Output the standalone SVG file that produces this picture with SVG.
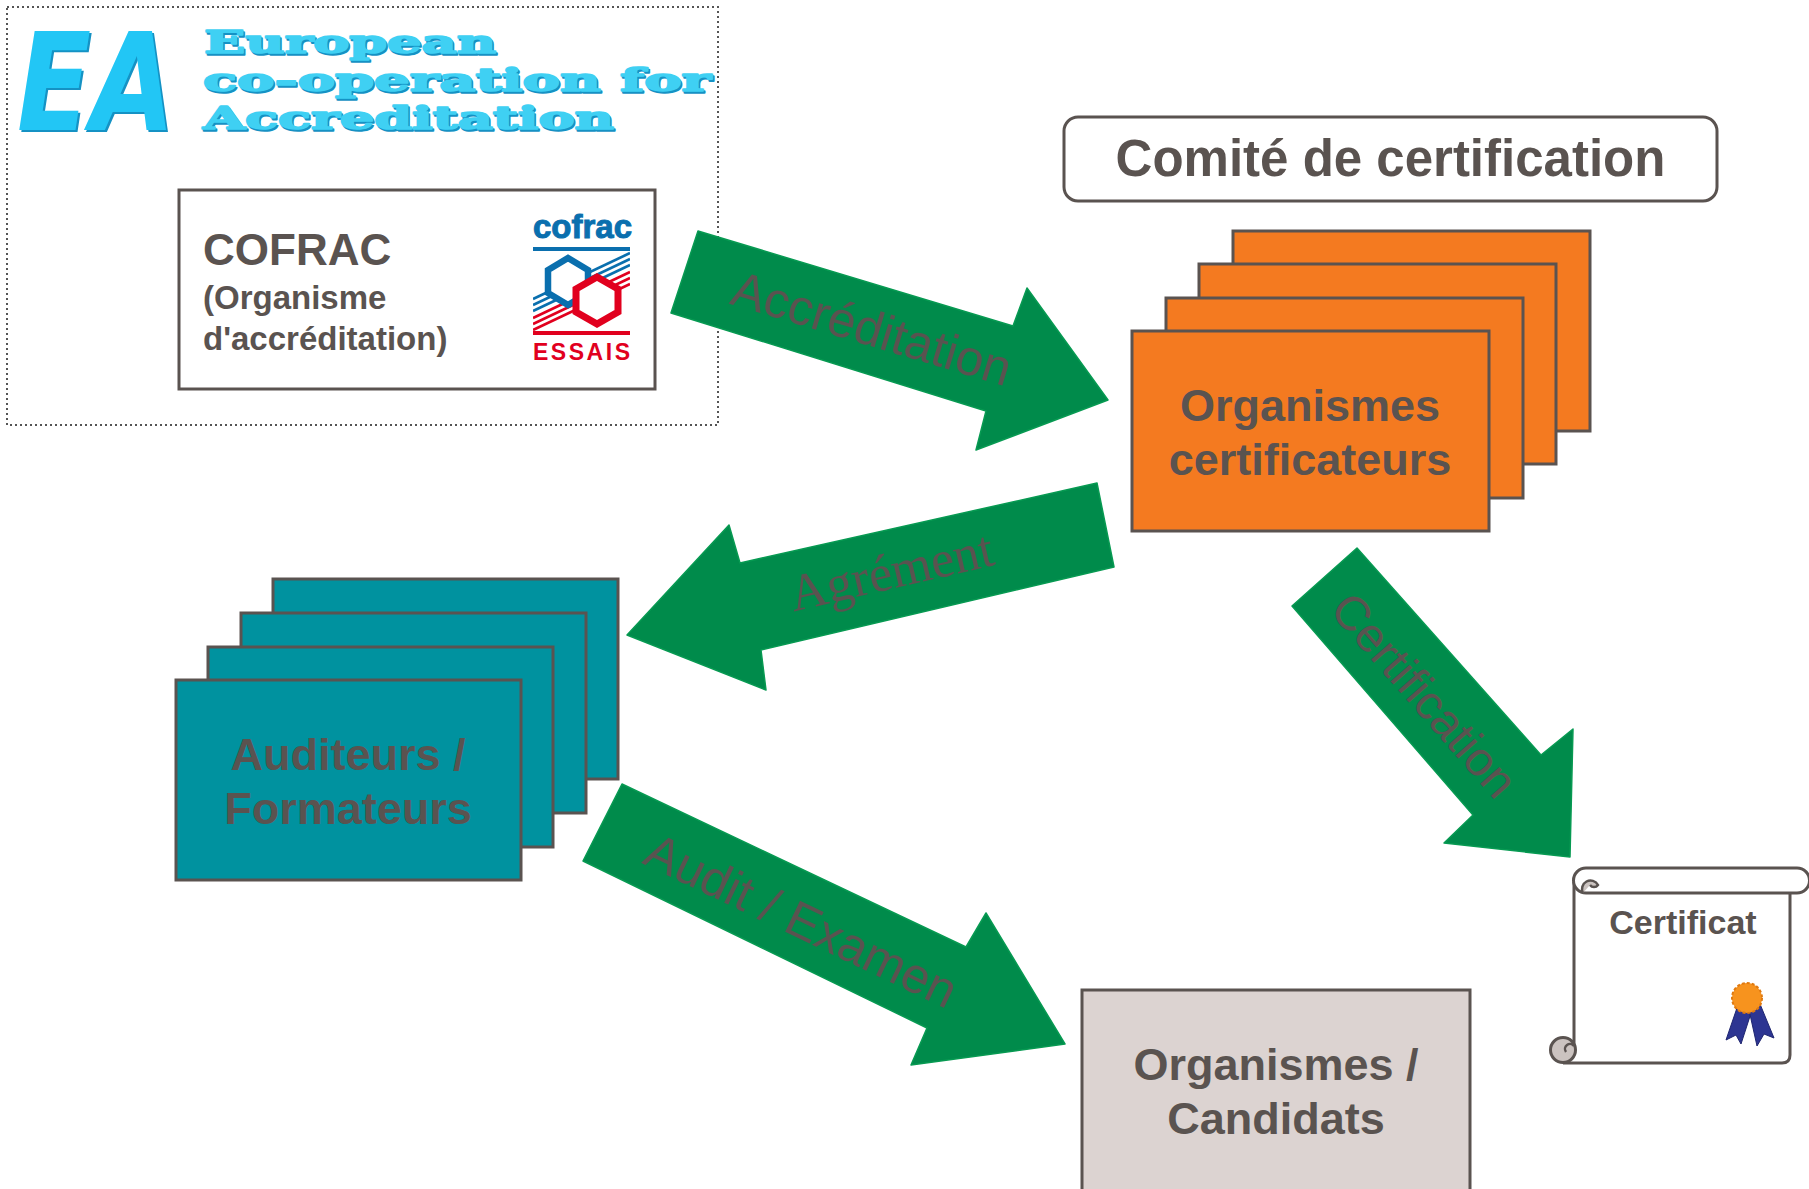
<svg xmlns="http://www.w3.org/2000/svg" width="1809" height="1189" viewBox="0 0 1809 1189">
<style>
.lbl{font-family:"Liberation Sans",Arial,sans-serif;font-weight:bold;fill:#5a5350}
.arr{fill:#008b4b;stroke:#079a52;stroke-width:1.5;stroke-linejoin:round}
.atx{font-family:"Liberation Sans",Arial,sans-serif;fill:#5a5350;text-anchor:middle}
.box{stroke:#5a5350;stroke-width:3}
.ea{font-family:"DejaVu Serif","Liberation Serif",serif;font-weight:bold;font-size:31px;stroke-width:1.6;stroke-linejoin:round}
</style>
<defs>
<clipPath id="logoclip"><rect x="533" y="251" width="97" height="82"/></clipPath>
</defs>
<rect width="1809" height="1189" fill="#ffffff"/>

<g id="ea-frame">
<rect x="7" y="7" width="711" height="418" fill="none" stroke="#555" stroke-width="2" stroke-dasharray="2 3"/>
<g id="ea-logo">
<text x="19" y="132" font-family="DejaVu Sans,sans-serif" font-weight="bold" font-style="italic" font-size="135" textLength="158" lengthAdjust="spacingAndGlyphs" fill="#1592c4">EA</text>
<text x="17" y="130" font-family="DejaVu Sans,sans-serif" font-weight="bold" font-style="italic" font-size="135" textLength="158" lengthAdjust="spacingAndGlyphs" fill="#22c6f5">EA</text>
<g fill="#1592c4" stroke="#1592c4">
<text class="ea" x="205.5" y="54.5" textLength="292" lengthAdjust="spacingAndGlyphs">European</text>
<text class="ea" x="204.5" y="92.5" textLength="508" lengthAdjust="spacingAndGlyphs">co-operation for</text>
<text class="ea" x="204.5" y="130.5" textLength="411" lengthAdjust="spacingAndGlyphs">Accreditation</text>
</g>
<g fill="#3fd0f3" stroke="#3fd0f3">
<text class="ea" x="204" y="53" textLength="292" lengthAdjust="spacingAndGlyphs">European</text>
<text class="ea" x="203" y="91" textLength="508" lengthAdjust="spacingAndGlyphs">co-operation for</text>
<text class="ea" x="203" y="129" textLength="411" lengthAdjust="spacingAndGlyphs">Accreditation</text>
</g>
</g>
</g>

<g id="cofrac">
<rect class="box" x="179" y="190" width="476" height="199" fill="#ffffff"/>
<text class="lbl" x="203" y="265" font-size="44">COFRAC</text>
<text class="lbl" x="203" y="309" font-size="33">(Organisme</text>
<text class="lbl" x="203" y="350" font-size="33">d'accréditation)</text>
<g id="cofrac-logo">
<text x="533" y="238" font-family="Liberation Sans,Arial,sans-serif" font-weight="bold" font-size="33" textLength="99" lengthAdjust="spacingAndGlyphs" fill="#0a6fae" stroke="#0a6fae" stroke-width="1">cofrac</text>
<rect x="533" y="247" width="97" height="4" fill="#0a6fae"/>
<g clip-path="url(#logoclip)" stroke-width="2.6">
<g stroke="#0a6fae">
<line x1="630" y1="253" x2="533" y2="299"/>
<line x1="630" y1="259" x2="533" y2="305"/>
<line x1="630" y1="265" x2="533" y2="311"/>
</g>
<g stroke="#e1001e">
<line x1="630" y1="272" x2="533" y2="318"/>
<line x1="630" y1="278" x2="533" y2="324"/>
<line x1="630" y1="284" x2="533" y2="330"/>
</g>
</g>
<polygon points="568,258 588,270 588,293 568,305 548,293 548,270" fill="#ffffff" stroke="#0a6fae" stroke-width="6.5"/>
<polygon points="597,277 618,289 618,312 597,324 576,312 576,289" fill="#ffffff" stroke="#e1001e" stroke-width="7"/>
<rect x="533" y="331" width="97" height="4" fill="#e1001e"/>
<text x="533" y="360" font-family="Liberation Sans,Arial,sans-serif" font-weight="bold" font-size="23" textLength="97" lengthAdjust="spacing" fill="#e1001e">ESSAIS</text>
</g>
</g>

<g id="comite">
<rect class="box" x="1064" y="117" width="653" height="84" rx="14" fill="#ffffff"/>
<text class="lbl" x="1390.5" y="176" font-size="51" text-anchor="middle">Comité de certification</text>
</g>

<g id="organismes-certificateurs">
<rect class="box" x="1233" y="231" width="357" height="200" fill="#f47a20"/>
<rect class="box" x="1199" y="264" width="357" height="200" fill="#f47a20"/>
<rect class="box" x="1166" y="298" width="357" height="200" fill="#f47a20"/>
<rect class="box" x="1132" y="331" width="357" height="200" fill="#f47a20"/>
<text class="lbl" x="1310" y="421" font-size="45" text-anchor="middle">Organismes</text>
<text class="lbl" x="1310" y="475" font-size="45" text-anchor="middle">certificateurs</text>
</g>

<g id="auditeurs-formateurs">
<rect class="box" x="273" y="579" width="345" height="200" fill="#00929f"/>
<rect class="box" x="241" y="613" width="345" height="200" fill="#00929f"/>
<rect class="box" x="208" y="647" width="345" height="200" fill="#00929f"/>
<rect class="box" x="176" y="680" width="345" height="200" fill="#00929f"/>
<text class="lbl" x="348" y="770" font-size="45" text-anchor="middle">Auditeurs /</text>
<text class="lbl" x="348" y="824" font-size="45" text-anchor="middle">Formateurs</text>
</g>

<g id="organismes-candidats">
<rect class="box" x="1082" y="990" width="388" height="215" fill="#dcd3d1"/>
<text class="lbl" x="1276" y="1080" font-size="45" text-anchor="middle">Organismes /</text>
<text class="lbl" x="1276" y="1134" font-size="45" text-anchor="middle">Candidats</text>
</g>

<g id="certificat">
<path d="M1574,880 H1790 V1055 Q1790,1063 1782,1063 H1563 V1037 H1574 Z" fill="#ffffff"/>
<path d="M1574,882 V1046 M1790,893 V1055 Q1790,1063 1782,1063 H1563" fill="none" stroke="#5a5350" stroke-width="3"/>
<path d="M1586,868 H1797 A12.5,12.5 0 0 1 1797,893 H1586 A12.5,12.5 0 0 1 1586,868 Z" fill="#ffffff" stroke="#5a5350" stroke-width="3"/>
<path d="M1583,893 A8,8 0 1 1 1598,885 A5,5 0 0 1 1590,885" fill="#cbc3c0" stroke="#5a5350" stroke-width="2.5"/>
<circle cx="1563" cy="1050" r="12.5" fill="#cbc3c0" stroke="#5a5350" stroke-width="3"/>
<path d="M1574,1046 A5,5 0 0 0 1566,1052" fill="none" stroke="#5a5350" stroke-width="2.5"/>
<text class="lbl" x="1683" y="934" font-size="34" text-anchor="middle">Certificat</text>
<polygon points="1738,1005 1752,1010 1741,1044 1736,1035 1726,1040" fill="#2d3592" stroke="#1f2670" stroke-width="1"/>
<polygon points="1749,1010 1760,1004 1774,1038 1764,1034 1757,1046" fill="#2d3592" stroke="#1f2670" stroke-width="1"/>
<circle cx="1747" cy="998" r="15" fill="#f7931e" stroke="#e07a10" stroke-width="2" stroke-dasharray="3 2"/>
</g>

<g id="connectors">
<g id="arrow-accreditation">
<polygon class="arr" points="698,231 1013,326 1027,288 1108,400 976,450 986,411 671,313"/>
<text class="atx" x="867" y="345" font-size="50" transform="rotate(16.7 867 345)">Accréditation</text>
</g>
<g id="arrow-agrement">
<polygon class="arr" points="1097,483 740,563 729,525 627,635 766,690 761,650 1114,567"/>
<text class="atx" x="895" y="588" font-size="52" style="font-family:'Liberation Serif','Times New Roman',serif" transform="rotate(-13 895 588)">Agrément</text>
</g>
<g id="arrow-certification">
<polygon class="arr" points="1357,548 1541,755 1573,729 1570,857 1444,843 1473,815 1292,606"/>
<text class="atx" x="1412" y="706" font-size="48" transform="rotate(48.7 1412 706)">Certification</text>
</g>
<g id="arrow-audit">
<polygon class="arr" points="622,784 966,947 986,913 1065,1044 911,1065 927,1028 583,861"/>
<text class="atx" x="794" y="936" font-size="50" transform="rotate(25.6 794 936)">Audit / Examen</text>
</g>
</g>
</svg>
